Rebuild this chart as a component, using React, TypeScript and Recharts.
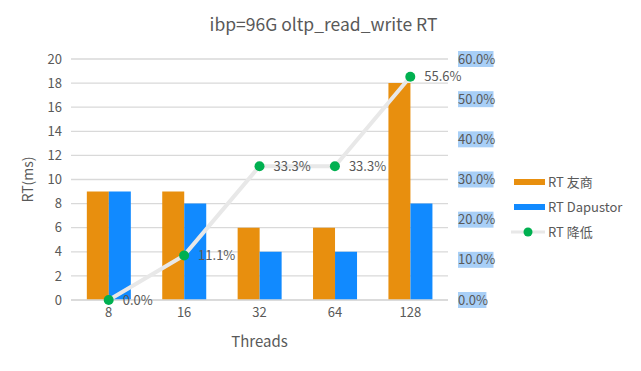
import React from "react";
import {
  ComposedChart,
  Bar,
  Line,
  XAxis,
  YAxis,
  CartesianGrid,
  LabelList,
} from "recharts";

const categories = ["8", "16", "32", "64", "128"];
const rtVendor = [9, 9, 6, 6, 18];
const rtDapustor = [9, 8, 4, 4, 8];
const rtReduction = [0.0, 0.111, 0.333, 0.333, 0.556];
const leftTicks = [0, 2, 4, 6, 8, 10, 12, 14, 16, 18, 20];
const rightTicks = [0, 0.1, 0.2, 0.3, 0.4, 0.5, 0.6];
const legendLabels = ["RT 友商", "RT Dapustor", "RT 降低"];

const data = categories.map((c, i) => ({
  name: c,
  vendor: rtVendor[i],
  dapustor: rtDapustor[i],
  reduction: rtReduction[i],
}));

const FONT = "'Noto Sans CJK SC', 'Noto Sans', sans-serif";
const GRAY = "#595959";
const ORANGE = "#E88F0E";
const BLUE = "#118AFF";
const GREEN = "#00B050";
const LINEGRAY = "#E8E8E8";

const pct = (v: number) => `${(v * 100).toFixed(1)}%`;

const RightTick = (props: any) => {
  const { x, y, payload } = props;
  const label = pct(payload.value);
  const w = label.length * 7.1;
  return (
    <g>
      <rect x={x} y={y - 8} width={w} height={16} fill="#A8CFF7" />
      <text x={x} y={y} dy={4.5} fill={GRAY} fontSize={13} fontFamily={FONT}>
        {label}
      </text>
    </g>
  );
};

const LegendBox = () => {
  const types = ["bar", "bar", "line"];
  const colors = [ORANGE, BLUE, GREEN];
  return (
    <div
      style={{
        position: "absolute",
        left: 511,
        top: 169,
        fontFamily: FONT,
        fontSize: 13,
        color: GRAY,
      }}
    >
      {legendLabels.map((label, i) => (
        <div
          key={label}
          style={{ display: "flex", alignItems: "center", height: 25 }}
        >
          <svg width={34} height={12} style={{ marginRight: 3 }}>
            {types[i] === "bar" ? (
              <rect x={3} y={3} width={31} height={6} fill={colors[i]} />
            ) : (
              <g>
                <line x1={0} y1={6} x2={34} y2={6} stroke={LINEGRAY} strokeWidth={3} />
                <circle cx={17} cy={6} r={4.5} fill={GREEN} />
              </g>
            )}
          </svg>
          <span>{label}</span>
        </div>
      ))}
    </div>
  );
};

export default function App() {
  return (
    <div
      style={{
        position: "absolute",
        left: 0,
        top: 0,
        width: 641,
        height: 371,
        background: "#fff",
      }}
    >
      <div
        style={{
          position: "absolute",
          left: 0,
          width: 641,
          top: 11,
          textAlign: "center",
          fontFamily: FONT,
          fontSize: 17.5,
          color: GRAY,
          paddingLeft: 6,
          boxSizing: "border-box",
        }}
      >
        ibp=96G oltp_read_write RT
      </div>
      <ComposedChart
        width={641}
        height={371}
        data={data}
        margin={{ top: 59, right: 138, bottom: 21, left: 10 }}
        barGap={0}
        barCategoryGap="21%"
        style={{ fontFamily: FONT }}
      >
        <CartesianGrid
          yAxisId="left"
          vertical={false}
          stroke="#D9D9D9"
          strokeWidth={1.3}
        />
        <XAxis
          dataKey="name"
          height={50}
          tickLine={false}
          axisLine={{ stroke: "#D9D9D9", strokeWidth: 1.3 }}
          tick={{ fill: GRAY, fontSize: 13 }}
          label={{
            value: "Threads",
            position: "insideBottom",
            offset: 3,
            fill: GRAY,
            fontSize: 15,
          }}
        />
        <YAxis
          yAxisId="left"
          width={61}
          domain={[0, 20]}
          ticks={leftTicks}
          interval={0}
          tickLine={false}
          axisLine={false}
          tickMargin={3}
          tick={{ fill: GRAY, fontSize: 13 }}
          label={{
            value: "RT(ms)",
            angle: -90,
            position: "insideLeft",
            offset: 18,
            fill: GRAY,
            fontSize: 14,
            style: { textAnchor: "middle" },
          }}
        />
        <YAxis
          yAxisId="right"
          orientation="right"
          width={55}
          domain={[0, 0.6]}
          ticks={rightTicks}
          interval={0}
          tickLine={false}
          axisLine={false}
          tickMargin={4}
          tick={<RightTick />}
        />
        <Bar
          yAxisId="left"
          dataKey="vendor"
          name={legendLabels[0]}
          fill={ORANGE}
          isAnimationActive={false}
        />
        <Bar
          yAxisId="left"
          dataKey="dapustor"
          name={legendLabels[1]}
          fill={BLUE}
          isAnimationActive={false}
        />
        <Line
          yAxisId="right"
          dataKey="reduction"
          name={legendLabels[2]}
          stroke={LINEGRAY}
          strokeWidth={4}
          dot={{ r: 5, fill: GREEN, stroke: GREEN, strokeWidth: 0 }}
          activeDot={false}
          isAnimationActive={false}
        >
          <LabelList
            dataKey="reduction"
            position="right"
            offset={14}
            formatter={(v: any) => pct(Number(v))}
            fill={GRAY}
            fontSize={13}
          />
        </Line>
      </ComposedChart>
      <LegendBox />
    </div>
  );
}
